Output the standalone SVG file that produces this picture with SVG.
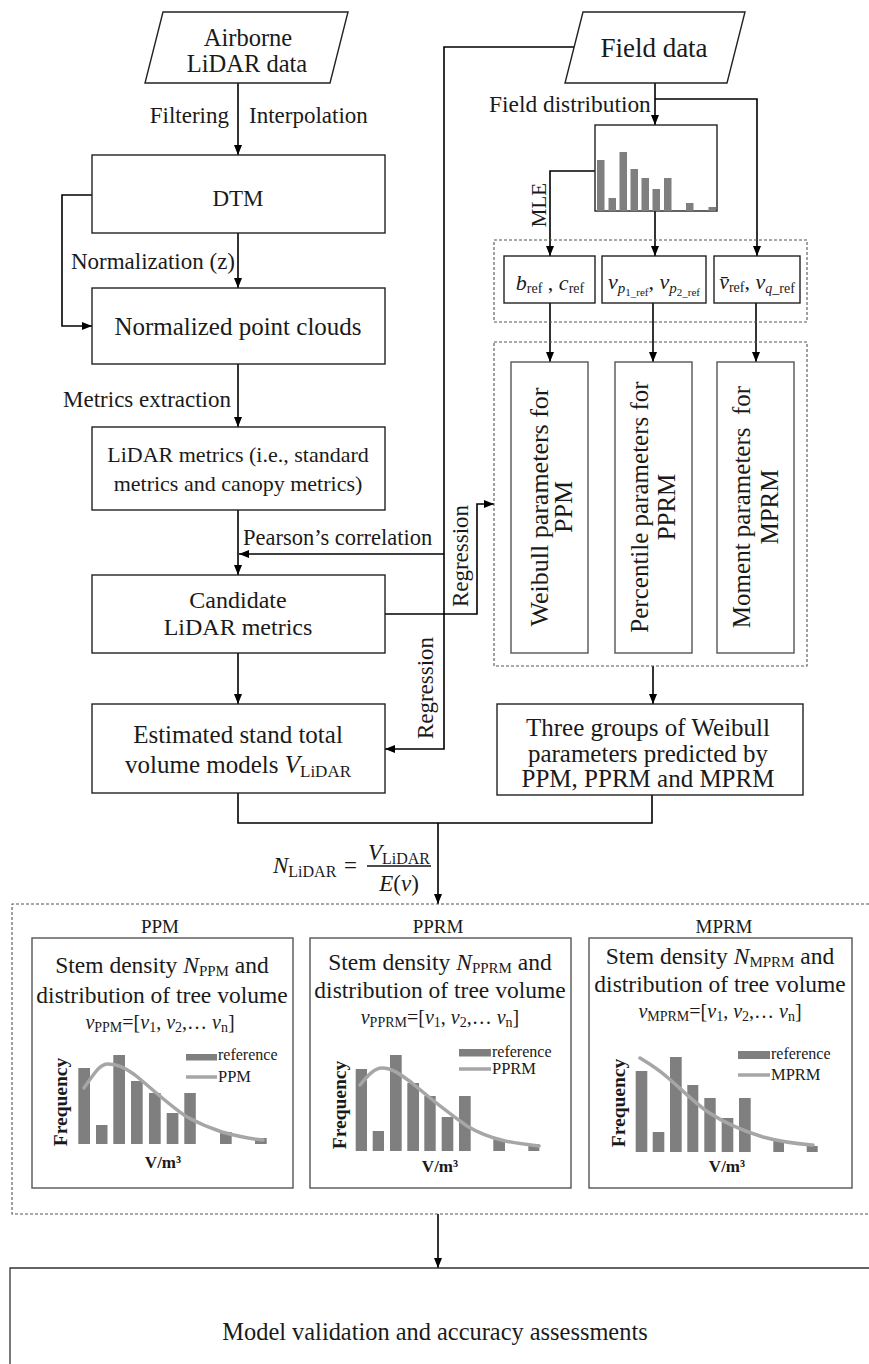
<svg xmlns="http://www.w3.org/2000/svg" width="869" height="1364" viewBox="0 0 869 1364">
<style>
text { font-family: "Liberation Serif", "Times New Roman", serif; fill: #1a1a1a; }
.box { fill: #fff; stroke: #222; stroke-width: 1.4; }
.gbox { fill: #fff; stroke: #555; stroke-width: 1.4; }
.dash { fill: none; stroke: #555; stroke-width: 1.1; stroke-dasharray: 3 2; }
.conn { fill: none; stroke: #000; stroke-width: 1.6; }
.arr { marker-end: url(#ah); }
.bar { fill: #7f7f7f; }
.curve { fill: none; stroke: #a6a6a6; stroke-width: 3.5; stroke-linecap: round; }
.mid { text-anchor: middle; }
.end { text-anchor: end; }
.it { font-style: italic; }
.up { font-style: normal; }
.b { font-weight: bold; }
</style>
<defs>
<marker id="ah" viewBox="0 0 10 8" refX="10" refY="4" markerWidth="10" markerHeight="8" markerUnits="userSpaceOnUse" orient="auto"><path d="M0,0 L10,4 L0,8 z" fill="#000"/></marker>
</defs>
<rect width="869" height="1364" fill="#fff"/>

<!-- connectors -->
<g id="connectors">
<path class="conn arr" d="M238,83 V155"/>
<path class="conn arr" d="M238,233 V288"/>
<path class="conn arr" d="M92,195 H62 V326 H92"/>
<path class="conn arr" d="M238,364 V427"/>
<path class="conn arr" d="M238,510 V575"/>
<path class="conn arr" d="M238,653 V704"/>
<path class="conn arr" d="M574,47 H444 V749 H385"/>
<path class="conn arr" d="M444,554 H239"/>
<path class="conn arr" d="M385,614 H477 V504 H494"/>
<path class="conn arr" d="M655,83 V125"/>
<path class="conn arr" d="M655,99 H757 V256"/>
<path class="conn arr" d="M595,171 H550 V256"/>
<path class="conn arr" d="M655,211 V256"/>
<path class="conn arr" d="M550,303 V362"/>
<path class="conn arr" d="M653,303 V362"/>
<path class="conn arr" d="M756,303 V362"/>
<path class="conn arr" d="M653,666 V704"/>
<path class="conn" d="M238,793 V823 H652 V795"/>
<path class="conn arr" d="M438,823 V904"/>
<path class="conn arr" d="M438,1214 V1268"/>
</g>

<!-- connector labels -->
<g id="labels">
<text x="229" y="123" class="end" font-size="23">Filtering</text>
<text x="249" y="123" font-size="23">Interpolation</text>
<text x="235" y="269" class="end" font-size="23">Normalization (z)</text>
<text x="231" y="407" class="end" font-size="23">Metrics extraction</text>
<text x="243" y="545" font-size="22.5">Pearson’s correlation</text>
<text class="mid" font-size="23" transform="translate(468,556) rotate(-90)">Regression</text>
<text class="mid" font-size="23" transform="translate(433,688) rotate(-90)">Regression</text>
<text x="489" y="112" font-size="23.4">Field distribution</text>
<text class="mid" font-size="21" transform="translate(546,205) rotate(-90)">MLE</text>
</g>

<g id="n-airborne">
<polygon class="box" points="163,12 348,12 330,83 145,83"/>
<text x="248" y="46" class="mid" font-size="24.5">Airborne</text>
<text x="247" y="72" class="mid" font-size="24.5">LiDAR data</text>
</g>

<g id="n-field">
<polygon class="box" points="583,12 745,12 727,83 565,83"/>
<text x="654" y="57" class="mid" font-size="27">Field data</text>
</g>

<g id="n-dtm">
<rect class="box" x="92" y="155" width="293" height="78"/>
<text x="238" y="206" class="mid" font-size="23">DTM</text>
</g>

<g id="n-normalized">
<rect class="box" x="92" y="288" width="293" height="76"/>
<text x="238" y="335" class="mid" font-size="25">Normalized point clouds</text>
</g>

<g id="n-metrics">
<rect class="box" x="92" y="427" width="293" height="83"/>
<text x="238" y="462" class="mid" font-size="22">LiDAR metrics (i.e., standard</text>
<text x="238" y="491" class="mid" font-size="22">metrics and canopy metrics)</text>
</g>

<g id="n-candidate">
<rect class="box" x="92" y="575" width="293" height="78"/>
<text x="238" y="608" class="mid" font-size="24">Candidate</text>
<text x="238" y="635" class="mid" font-size="24">LiDAR metrics</text>
</g>

<g id="n-estimated">
<rect class="box" x="92" y="704" width="293" height="89"/>
<text x="238" y="743" class="mid" font-size="25">Estimated stand total</text>
<text x="238" y="773" class="mid" font-size="25">volume models <tspan class="it">V</tspan><tspan font-size="17" dy="4">LiDAR</tspan></text>
</g>

<g id="n-histogram">
<rect class="box" x="595" y="125" width="122" height="86"/>
<g class="bar">
<rect x="597" y="160" width="7.5" height="51"/>
<rect x="608.5" y="198" width="7.5" height="13"/>
<rect x="619.5" y="152" width="7.5" height="59"/>
<rect x="630.5" y="169" width="7.5" height="42"/>
<rect x="641.5" y="178" width="7.5" height="33"/>
<rect x="652.5" y="189" width="7.5" height="22"/>
<rect x="664" y="178" width="7.5" height="33"/>
<rect x="686" y="203" width="7.5" height="8"/>
<rect x="708.5" y="207" width="7.5" height="4"/>
</g>
</g>

<g id="g-params">
<rect class="dash" x="494" y="240" width="313" height="82"/>
<g id="n-bc">
<rect class="box" x="504" y="256" width="91" height="47"/>
<text x="550" y="290" class="mid" font-size="22"><tspan class="it">b</tspan><tspan font-size="14" dy="3">ref</tspan><tspan dy="-3"> , </tspan><tspan class="it">c</tspan><tspan font-size="14" dy="3">ref</tspan></text>
</g>
<g id="n-vp">
<rect class="box" x="602" y="256" width="104" height="47"/>
<text x="654" y="289" class="mid" font-size="22"><tspan class="it">v</tspan><tspan class="it" font-size="15" dy="4">p</tspan><tspan font-size="11" dy="3">1_ref</tspan><tspan dy="-7">, </tspan><tspan class="it">v</tspan><tspan class="it" font-size="15" dy="4">p</tspan><tspan font-size="11" dy="3">2_ref</tspan></text>
</g>
<g id="n-vq">
<rect class="box" x="714" y="256" width="86" height="47"/>
<text x="757" y="289" class="mid" font-size="22"><tspan class="it">v&#772;</tspan><tspan font-size="14" dy="3">ref</tspan><tspan dy="-3">, </tspan><tspan class="it">v</tspan><tspan class="it" font-size="14" dy="4">q</tspan><tspan font-size="14">_ref</tspan></text>
</g>
</g>

<g id="g-models">
<rect class="dash" x="494" y="342" width="313" height="324"/>
<g id="n-weibull">
<rect class="gbox" x="511" y="362" width="77" height="291"/>
<text class="mid" font-size="26" transform="translate(548,507) rotate(-90)">Weibull parameters for</text>
<text class="mid" font-size="26" transform="translate(572,507) rotate(-90)">PPM</text>
</g>
<g id="n-percentile">
<rect class="gbox" x="615" y="362" width="77" height="291"/>
<text class="mid" font-size="25" transform="translate(648,507) rotate(-90)">Percentile parameters for</text>
<text class="mid" font-size="25" transform="translate(675,507) rotate(-90)">PPRM</text>
</g>
<g id="n-moment">
<rect class="gbox" x="717" y="362" width="77" height="291"/>
<text class="mid" font-size="25" transform="translate(750,507) rotate(-90)">Moment parameters&#160; for</text>
<text class="mid" font-size="25" transform="translate(778,507) rotate(-90)">MPRM</text>
</g>
</g>

<g id="n-three">
<rect class="box" x="497" y="704" width="306" height="91"/>
<text x="648" y="736" class="mid" font-size="25">Three groups of Weibull</text>
<text x="648" y="762" class="mid" font-size="25">parameters predicted by</text>
<text x="648" y="787" class="mid" font-size="25">PPM, PPRM and MPRM</text>
</g>

<g id="n-formula">
<text x="273" y="873" class="it" font-size="23">N<tspan class="up" font-size="16" dy="4">LiDAR</tspan></text>
<text x="344" y="873" font-size="23">=</text>
<line x1="367" y1="866" x2="431" y2="866" stroke="#111" stroke-width="1.3"/>
<text x="399" y="860" class="mid" font-size="23"><tspan class="it">V</tspan><tspan font-size="16" dy="4">LiDAR</tspan></text>
<text x="399" y="891" class="mid" font-size="23"><tspan class="it">E</tspan>(<tspan class="it">v</tspan>)</text>
</g>

<g id="g-panels">
<path class="dash" d="M869,904 H12 V1214 H869"/>

<g id="n-ppm">
<text x="160" y="933" class="mid" font-size="19">PPM</text>
<rect class="gbox" x="32" y="938" width="261" height="250"/>
<text x="162" y="973" class="mid" font-size="23.5">Stem density <tspan class="it">N</tspan><tspan font-size="15" dy="3">PPM</tspan><tspan dy="-3"> and</tspan></text>
<text x="162" y="1003" class="mid" font-size="23.5">distribution of tree volume</text>
<text x="160" y="1029" class="mid" font-size="20"><tspan class="it">v</tspan><tspan font-size="14" dy="3">PPM</tspan><tspan dy="-3">=[</tspan><tspan class="it">v</tspan><tspan font-size="14" dy="3">1</tspan><tspan dy="-3">, </tspan><tspan class="it">v</tspan><tspan font-size="14" dy="3">2</tspan><tspan dy="-3">,… </tspan><tspan class="it">v</tspan><tspan font-size="14" dy="3">n</tspan><tspan dy="-3">]</tspan></text>
<g class="bar">
<rect x="78.3" y="1068" width="11.7" height="76"/>
<rect x="96" y="1125" width="11.5" height="19"/>
<rect x="113.3" y="1055" width="11.7" height="89"/>
<rect x="131" y="1081" width="11.7" height="63"/>
<rect x="149" y="1093" width="11.7" height="51"/>
<rect x="166.7" y="1113" width="11.7" height="31"/>
<rect x="184.3" y="1093" width="11.5" height="51"/>
<rect x="220" y="1132" width="11.7" height="12"/>
<rect x="255" y="1138" width="11.7" height="6"/>
</g>
<path class="curve" d="M84,1088 C95,1072 100,1064 108,1064 C118,1064 125,1068 135,1075 C150,1087 170,1106 187,1117 C200,1124 210,1128 222,1132 C240,1137 252,1139 263,1140"/>
<rect class="bar" x="186" y="1054" width="31" height="6.5"/>
<text x="218" y="1060" font-size="16">reference</text>
<line x1="186" y1="1077" x2="217" y2="1077" stroke="#a6a6a6" stroke-width="3.5"/>
<text x="218" y="1082" font-size="16.5">PPM</text>
<text class="mid b" font-size="19.5" transform="translate(67,1102) rotate(-90)">Frequency</text>
<text x="163" y="1168" class="mid b" font-size="17">V/m³</text>
</g>

<g id="n-pprm">
<text x="438" y="933" class="mid" font-size="19">PPRM</text>
<rect class="gbox" x="310" y="938" width="261" height="250"/>
<text x="440" y="970" class="mid" font-size="23.5">Stem density <tspan class="it">N</tspan><tspan font-size="15" dy="3">PPRM</tspan><tspan dy="-3"> and</tspan></text>
<text x="440" y="998" class="mid" font-size="23.5">distribution of tree volume</text>
<text x="440" y="1024" class="mid" font-size="20"><tspan class="it">v</tspan><tspan font-size="14" dy="3">PPRM</tspan><tspan dy="-3">=[</tspan><tspan class="it">v</tspan><tspan font-size="14" dy="3">1</tspan><tspan dy="-3">, </tspan><tspan class="it">v</tspan><tspan font-size="14" dy="3">2</tspan><tspan dy="-3">,… </tspan><tspan class="it">v</tspan><tspan font-size="14" dy="3">n</tspan><tspan dy="-3">]</tspan></text>
<g class="bar">
<rect x="355.7" y="1069" width="11.3" height="82"/>
<rect x="372.7" y="1131" width="11.3" height="20"/>
<rect x="390" y="1055" width="11.7" height="96"/>
<rect x="407.3" y="1083" width="11.7" height="68"/>
<rect x="424.3" y="1096" width="11.4" height="55"/>
<rect x="441.7" y="1117" width="11.6" height="34"/>
<rect x="459" y="1096" width="11.7" height="55"/>
<rect x="493.3" y="1139" width="11.7" height="12"/>
<rect x="528.3" y="1144" width="11" height="7"/>
</g>
<path class="curve" d="M360,1085 C369,1074 375,1068 382,1068 C392,1068 400,1074 412,1083 C425,1094 450,1114 467,1126 C480,1134 492,1138 505,1141 C520,1144 530,1145 539,1146"/>
<rect class="bar" x="459" y="1049" width="32" height="7.5"/>
<text x="492" y="1057" font-size="16">reference</text>
<line x1="459" y1="1069" x2="491" y2="1069" stroke="#a6a6a6" stroke-width="3.5"/>
<text x="492" y="1074" font-size="16.5">PPRM</text>
<text class="mid b" font-size="19.5" transform="translate(346,1105) rotate(-90)">Frequency</text>
<text x="440" y="1172" class="mid b" font-size="17">V/m³</text>
</g>

<g id="n-mprm">
<text x="724" y="933" class="mid" font-size="19">MPRM</text>
<rect class="gbox" x="589" y="938" width="263" height="250"/>
<text x="720" y="964" class="mid" font-size="23.5">Stem density <tspan class="it">N</tspan><tspan font-size="15" dy="3">MPRM</tspan><tspan dy="-3"> and</tspan></text>
<text x="720" y="992" class="mid" font-size="23.5">distribution of tree volume</text>
<text x="720" y="1018" class="mid" font-size="20"><tspan class="it">v</tspan><tspan font-size="14" dy="3">MPRM</tspan><tspan dy="-3">=[</tspan><tspan class="it">v</tspan><tspan font-size="14" dy="3">1</tspan><tspan dy="-3">, </tspan><tspan class="it">v</tspan><tspan font-size="14" dy="3">2</tspan><tspan dy="-3">,… </tspan><tspan class="it">v</tspan><tspan font-size="14" dy="3">n</tspan><tspan dy="-3">]</tspan></text>
<g class="bar">
<rect x="635.7" y="1071" width="11.6" height="81"/>
<rect x="652.7" y="1132" width="11.6" height="20"/>
<rect x="670" y="1057" width="11.7" height="95"/>
<rect x="687.3" y="1085" width="11" height="67"/>
<rect x="704.3" y="1098" width="11.4" height="54"/>
<rect x="721.7" y="1118" width="11.6" height="34"/>
<rect x="739" y="1098" width="11.7" height="54"/>
<rect x="773.3" y="1140" width="10.7" height="12"/>
<rect x="806.7" y="1146" width="11" height="6"/>
</g>
<path class="curve" d="M640,1058 C650,1064 658,1069 667,1077 C680,1088 695,1103 708,1112 C720,1120 740,1130 763,1137 C785,1143 800,1144 813,1145"/>
<rect class="bar" x="738" y="1051" width="32" height="8"/>
<text x="771" y="1059" font-size="16">reference</text>
<line x1="738" y1="1075" x2="770" y2="1075" stroke="#a6a6a6" stroke-width="3.5"/>
<text x="771" y="1080" font-size="16.5">MPRM</text>
<text class="mid b" font-size="19.5" transform="translate(625,1103) rotate(-90)">Frequency</text>
<text x="727" y="1172" class="mid b" font-size="17">V/m³</text>
</g>
</g>

<g id="n-validation">
<path fill="#fff" stroke="#333" stroke-width="1.3" d="M10,1364 V1268 H869"/>
<text x="435" y="1340" class="mid" font-size="24.4">Model validation and accuracy assessments</text>
</g>
</svg>
